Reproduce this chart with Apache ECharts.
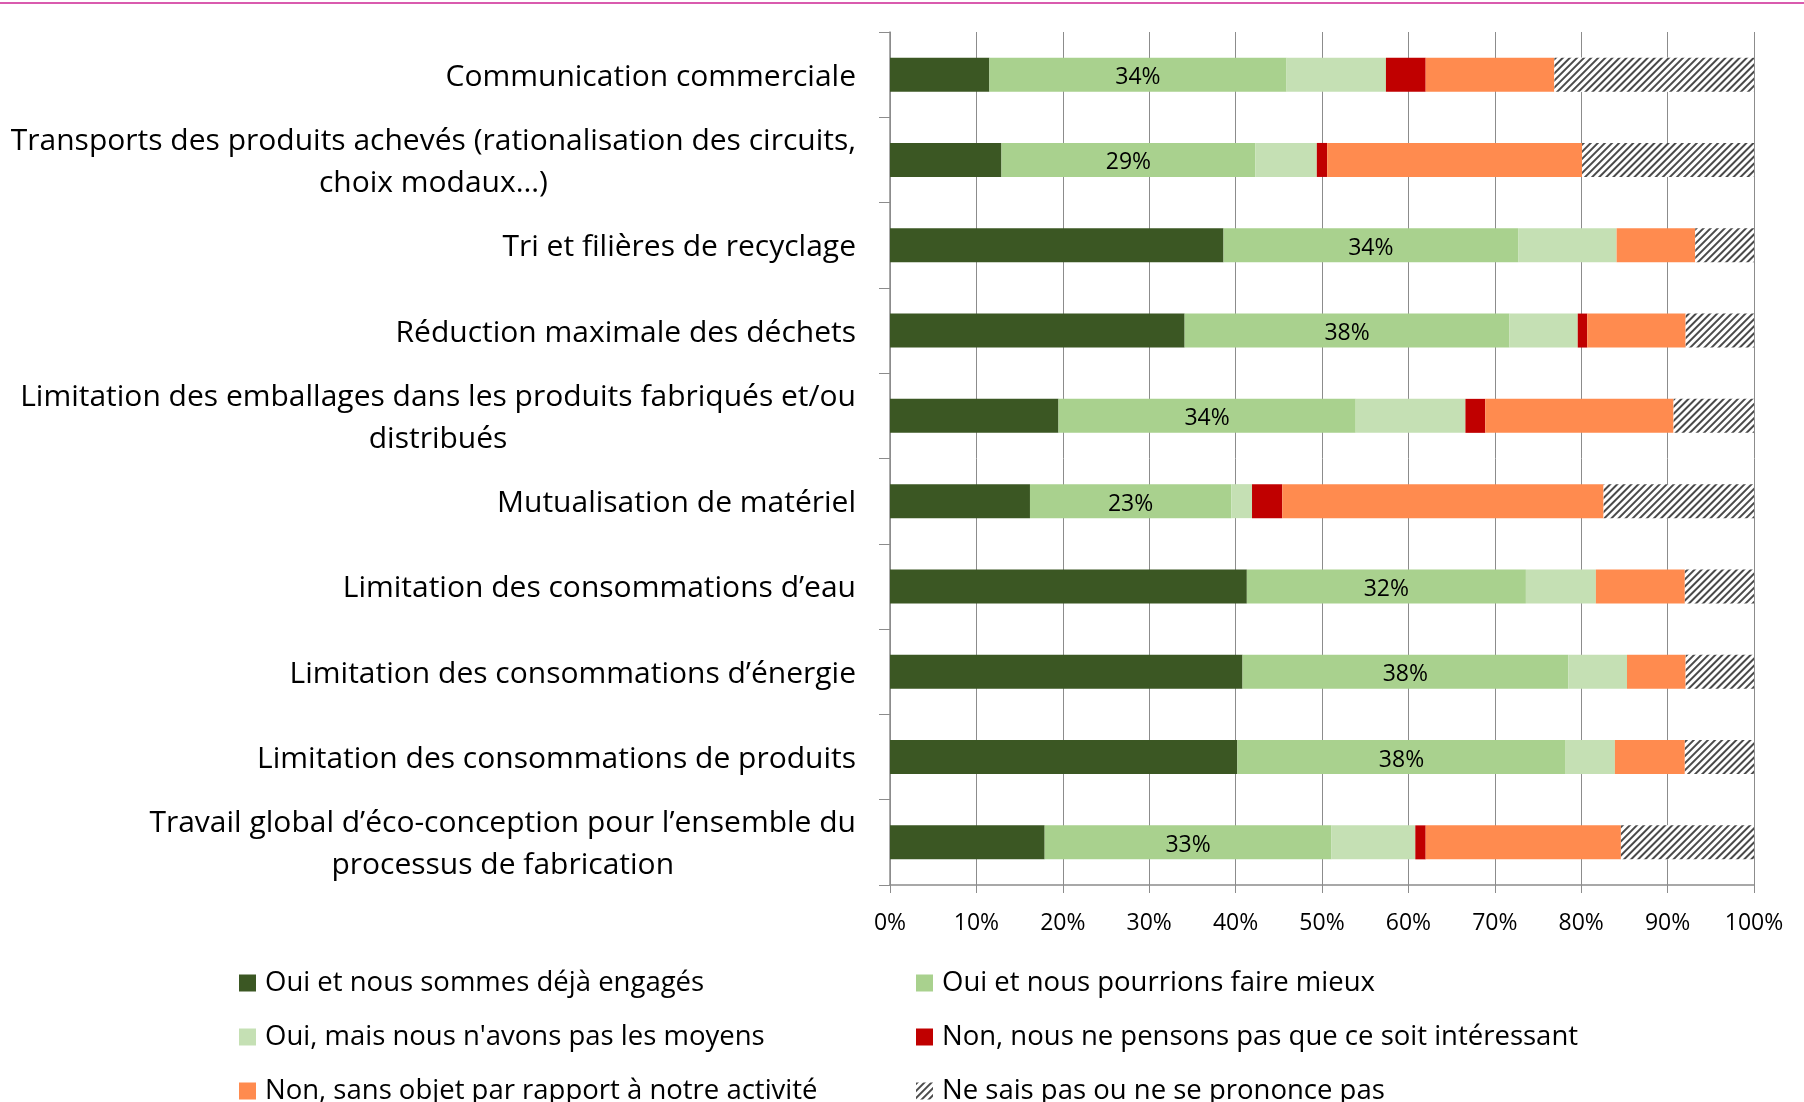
<!DOCTYPE html>
<html><head><meta charset="utf-8">
<script src="https://cdn.jsdelivr.net/npm/echarts@6/dist/echarts.min.js"></script>
<style>html,body{margin:0;padding:0;background:#fff}#c{width:1804px;height:1102px}</style>
</head><body><div id="c"></div>
<script>
const categories = [
  "Communication commerciale",
  "Transports des produits achevés (rationalisation des circuits,\nchoix modaux…)",
  "Tri et filières de recyclage",
  "Réduction maximale des déchets",
  "Limitation des emballages dans les produits fabriqués et/ou\ndistribués",
  "Mutualisation de matériel",
  "Limitation des consommations d’eau",
  "Limitation des consommations d’énergie",
  "Limitation des consommations de produits",
  "Travail global d’éco-conception pour l’ensemble du\nprocessus de fabrication"
];
const seriesNames = [
  "Oui et nous sommes déjà engagés",
  "Oui et nous pourrions faire mieux",
  "Oui, mais nous n'avons pas les moyens",
  "Non, nous ne pensons pas que ce soit intéressant",
  "Non, sans objet par rapport à notre activité",
  "Ne sais pas ou ne se prononce pas"
];
const dejaEngages   = [11.5, 12.9, 38.6, 34.1, 19.5, 16.2, 41.3, 40.8, 40.2, 17.9];
const fairMieux     = [34.4, 29.4, 34.1, 37.6, 34.4, 23.3, 32.3, 37.7, 38.0, 33.2];
const pasMoyens     = [11.5,  7.1, 11.4,  7.9, 12.7,  2.4,  8.1,  6.8,  5.7,  9.7];
const pasInteressant= [ 4.6,  1.2,  0.0,  1.1,  2.3,  3.5,  0.0,  0.0,  0.0,  1.2];
const sansObjet     = [14.9, 29.5,  9.1, 11.4, 21.8, 37.2, 10.3,  6.8,  8.1, 22.6];
const neSaisPas     = [23.1, 19.9,  6.8,  7.9,  9.3, 17.4,  8.0,  7.9,  8.0, 15.4];
const xTicks = [0, 100, 10];

const FONT = '"Open Sans", "Noto Sans", sans-serif';
const colors = ['#3B5723', '#A9D18E', '#C5E0B4', '#C00000', '#FF8B4F', '#ffffff'];
const allValues = [dejaEngages, fairMieux, pasMoyens, pasInteressant, sansObjet, neSaisPas];

const series = allValues.map((vals, i) => {
  const s = {
    name: seriesNames[i],
    type: 'bar',
    stack: 'total',
    barWidth: 34,
    data: vals,
    itemStyle: { color: colors[i] },
    label: { show: false }
  };
  if (i === 1) {
    s.label = {
      show: true, position: 'inside', color: '#000', fontSize: 23, fontFamily: FONT,
      offset: [0, 3],
      formatter: p => Math.round(p.value) + '%'
    };
  }
  if (i === 5) {
    s.itemStyle = {
      color: '#ffffff',
      decal: {
        symbol: 'rect', symbolSize: 1, color: '#4A4A4A', backgroundColor: '#ffffff',
        dashArrayX: [1, 0], dashArrayY: [2, 2.5], rotation: -Math.PI / 4
      }
    };
  }
  return s;
});

const legendText = { fontSize: 27.5, fontFamily: FONT, color: '#000', padding: [0, 0, 0, 4] };
const legendPos = [
  [239, 969], [916, 969],
  [239, 1023], [916, 1023],
  [239, 1077], [916, 1077]
];
const legends = seriesNames.map((n, i) => ({
  orient: 'horizontal', left: legendPos[i][0], top: legendPos[i][1], padding: 0,
  itemWidth: 17, itemHeight: 17, selectedMode: false, icon: 'rect',
  data: [n], textStyle: legendText
}));

const chart = echarts.init(document.getElementById('c'), null, { renderer: 'canvas' });
chart.setOption({
  animation: false,
  backgroundColor: '#fff',
  graphic: [{ type: 'rect', shape: { x: 0, y: 2, width: 1804, height: 2 }, style: { fill: '#D95BAE' } }],
  grid: { left: 890, right: 50, top: 32, bottom: 217, containLabel: false },
  legend: legends,
  xAxis: {
    type: 'value', min: xTicks[0], max: xTicks[1], interval: xTicks[2],
    axisLine: { show: true, lineStyle: { color: '#8C8C8C', width: 1.5 } },
    axisTick: { show: true, length: 8, lineStyle: { color: '#8C8C8C' } },
    splitLine: { show: true, lineStyle: { color: '#8C8C8C', width: 1 } },
    axisLabel: { formatter: '{value}%', fontSize: 23, color: '#000', fontFamily: FONT, margin: 27 }
  },
  yAxis: {
    type: 'category', inverse: true, data: categories,
    axisLine: { show: true, lineStyle: { color: '#8C8C8C', width: 1.5 } },
    axisTick: { show: true, length: 11, lineStyle: { color: '#8C8C8C' } },
    axisLabel: {
      margin: 34, color: '#000', fontSize: 30, fontFamily: FONT, lineHeight: 42,
      padding: [5, 0, 0, 0],
      formatter: v => v.split('\n').map(l => '{c|' + l + '}').join('\n'),
      rich: { c: { align: 'center', fontSize: 30, lineHeight: 42, fontFamily: FONT, color: '#000' } }
    }
  },
  series: series
});
</script></body></html>
